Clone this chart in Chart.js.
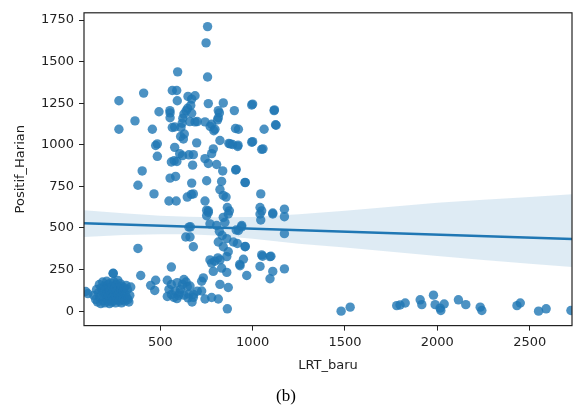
<!DOCTYPE html>
<html>
<head>
<meta charset="utf-8">
<title>LRT_baru vs Positif_Harian</title>
<script src="https://cdn.jsdelivr.net/npm/chart.js@4/dist/chart.umd.min.js"></script>
<style>
  html, body { margin: 0; padding: 0; background: #fff; }
  canvas { display: block; }
</style>
</head>
<body>
<canvas id="regChart" width="577" height="414"></canvas>
<script>
// daily pairs: LRT_baru (x) and Positif_Harian (y)
const lrtBaru = [
  // low cluster, small x
  96, 108, 140, 150, 155, 160, 165, 170, 172, 178, 180, 185, 188, 190, 195, 198, 200, 205, 208, 210,
  212, 215, 218, 220, 222, 225, 228, 230, 232, 235, 238, 240, 242, 245, 246, 248, 250, 252, 255, 258,
  260, 262, 265, 268, 270, 272, 275, 278, 280, 283, 285, 288, 290, 292, 295, 298, 300, 305, 308, 312,
  315, 318, 322, 325, 330, 335, 340,
  // upper band
  756, 748, 756, 594, 410, 276, 276, 363, 565, 589, 650, 592, 493, 552, 640, 648, 665, 688, 670, 760,
  841, 814, 901, 995, 1116, 670, 457, 553, 553, 565, 612, 618, 622, 628, 630, 625, 578, 688, 742, 778,
  796, 814, 820, 923, 1062, 1127, 697, 823, 878, 919, 995, 1049, 475, 484, 610, 660, 700, 770, 790, 810,
  1000, 1056, 1118, 1124, 1000, 871, 891, 921, 907,
  // middle band
  484, 578, 560, 575, 590, 605, 620, 655, 402, 379, 466, 553, 583, 547, 586, 646, 668, 787, 778, 742,
  760, 679, 675, 805, 838, 908, 751, 832, 823, 959, 670, 679, 841, 856, 1044, 742, 751, 760, 863, 874,
  1040, 1049, 1109, 1172, 911, 960,
  // around the fit line
  751, 760, 841, 868, 1040, 1044, 1109, 1172, 769, 805, 850, 941, 923, 663, 1172, 679, 661, 814, 841, 860,
  896, 917, 959, 638, 655, 820, 835, 940, 911, 960,
  // lower band
  868, 860, 823, 769, 778, 787, 832, 860, 950, 932, 968, 1049, 1094, 1040, 1109, 1094, 1172, 379, 245, 394,
  560, 812, 795, 930, 1054, 1099,
  // low cluster, middle x
  733, 724, 724, 742, 778, 814, 823, 868, 661, 679, 672, 863, 475, 448, 470, 538, 547, 538, 574, 592,
  628, 646, 610, 628, 655, 560, 580, 600, 620, 640, 590, 605, 560, 680, 700, 650,
  // right tail
  1479, 1528, 1780, 1798, 1826, 1907, 1916, 1979, 1988, 2015, 2019, 2037, 2114, 2154, 2232, 2241, 2431, 2449, 2548, 2589,
  2723
];
const positifHarian = [
  118, 105, 95, 70, 130, 55, 110, 160, 85, 45, 140, 120, 175, 65, 95, 150, 50, 130, 80, 180,
  110, 60, 160, 95, 140, 45, 120, 75, 170, 100, 55, 150, 85, 228, 125, 65, 175, 105, 140, 50,
  90, 160, 120, 70, 185, 100, 145, 60, 115, 165, 85, 130, 50, 150, 95, 70, 120, 140, 60, 100,
  155, 80, 130, 70, 55, 95, 145,
  1711, 1613, 1408, 1439, 1311, 1265, 1094, 1144, 1327, 1327, 1291, 1265, 1199, 1206, 1205, 1220, 1237, 1295, 1275, 1248,
  1252, 1206, 1206, 1240, 1206, 1190, 1094, 1163, 1192, 1104, 1105, 1130, 1160, 1185, 1065, 1035, 1107, 1138, 1138, 1124,
  1094, 1163, 1192, 1094, 1094, 1118, 1012, 1026, 1006, 990, 1016, 973, 996, 1006, 1050, 1140, 1140, 1110, 1085, 1150,
  1019, 976, 1210, 1121, 1245, 1009, 1002, 998, 1098,
  931, 985, 897, 905, 900, 947, 935, 940, 843, 757, 705, 800, 810, 662, 662, 686, 702, 976, 947, 917,
  888, 941, 878, 882, 843, 849, 784, 780, 731, 774, 770, 705, 696, 686, 705, 662, 607, 603, 623, 603,
  623, 603, 590, 613, 852, 773,
  574, 593, 564, 584, 584, 548, 584, 568, 525, 515, 534, 515, 485, 507, 466, 387, 446, 416, 387, 436,
  416, 407, 387, 446, 505, 480, 455, 507, 488, 389,
  357, 328, 308, 308, 289, 239, 259, 233, 312, 273, 214, 338, 328, 269, 239, 195, 254, 377, 226, 214,
  265, 320, 300, 281, 330, 330,
  200, 180, 121, 73, 82, 73, 161, 142, 151, 83, 55, 14, 186, 155, 124, 186, 131, 88, 83, 171,
  190, 147, 131, 96, 102, 160, 120, 95, 160, 175, 75, 110, 100, 100, 120, 80,
  0, 24, 33, 37, 49, 68, 39, 96, 39, 18, 4, 43, 68, 39, 24, 4, 33, 49, 0, 14,
  4
];

// fitted line and its confidence band
const fitX = [87, 2729];
const fitY = [528, 434];
const bandX = [87, 300, 500, 650, 800, 1000, 1250, 1500, 1750, 2000, 2250, 2500, 2729];
const bandUpper = [607, 588, 574, 568, 565, 566, 582, 603, 628, 652, 670, 686, 703];
const bandLower = [446, 458, 463, 462, 455, 436, 405, 383, 357, 332, 308, 285, 265];

const xTicks = [500, 1000, 1500, 2000, 2500];
const yTicks = [0, 250, 500, 750, 1000, 1250, 1500, 1750];

const blue = '#1f77b4';
const pts = lrtBaru.map((x, i) => ({ x: x, y: positifHarian[i] }));
const toXY = (xs, ys) => xs.map((x, i) => ({ x: x, y: ys[i] }));

// axes frame on all four sides
const framePlugin = {
  id: 'frame',
  afterDraw(chart) {
    const { ctx, chartArea: a } = chart;
    ctx.save();
    ctx.strokeStyle = '#222';
    ctx.lineWidth = 1.2;
    ctx.strokeRect(a.left, a.top, a.right - a.left, a.bottom - a.top);
    ctx.restore();
  }
};

const tickFont = { family: 'DejaVu Sans', size: 13 };
const plainNumber = v => String(v);

new Chart(document.getElementById('regChart'), {
  type: 'scatter',
  data: {
    datasets: [
      {
        label: 'ci upper',
        data: toXY(bandX, bandUpper),
        showLine: true,
        pointRadius: 0,
        borderWidth: 0,
        backgroundColor: 'rgba(31,119,180,0.15)',
        fill: '+1',
        order: 2,
        clip: 0
      },
      {
        label: 'ci lower',
        data: toXY(bandX, bandLower),
        showLine: true,
        pointRadius: 0,
        borderWidth: 0,
        fill: false,
        order: 2,
        clip: 0
      },
      {
        label: 'fit',
        data: toXY(fitX, fitY),
        showLine: true,
        pointRadius: 0,
        borderColor: blue,
        borderWidth: 2.5,
        order: 1,
        clip: 0
      },
      {
        label: 'LRT_baru vs Positif_Harian',
        data: pts,
        pointRadius: 4.7,
        pointHoverRadius: 4.7,
        pointBorderWidth: 0,
        backgroundColor: 'rgba(31,119,180,0.8)',
        order: 3,
        clip: 0
      }
    ]
  },
  options: {
    responsive: false,
    animation: false,
    devicePixelRatio: 1,
    layout: { padding: { left: 0, right: 5, top: 8, bottom: 0 } },
    scales: {
      x: {
        type: 'linear',
        min: 87,
        max: 2729,
        afterBuildTicks: axis => { axis.ticks = xTicks.map(v => ({ value: v })); },
        afterFit: axis => { axis.height = 61; },
        grid: { display: true, drawOnChartArea: false, drawTicks: true, tickLength: 5, tickColor: '#222' },
        border: { display: false },
        ticks: { font: tickFont, color: '#222', padding: 4, maxRotation: 0, callback: plainNumber },
        title: { display: true, text: 'LRT_baru', font: tickFont, color: '#222', padding: { top: 0, bottom: 13 } }
      },
      y: {
        type: 'linear',
        min: -87,
        max: 1794,
        afterBuildTicks: axis => { axis.ticks = yTicks.map(v => ({ value: v })); },
        afterFit: axis => { axis.width = 84; },
        grid: { display: true, drawOnChartArea: false, drawTicks: true, tickLength: 5, tickColor: '#222' },
        border: { display: false },
        ticks: { font: tickFont, color: '#222', padding: 5, callback: plainNumber },
        title: { display: true, text: 'Positif_Harian', font: tickFont, color: '#222', padding: { top: 13, bottom: 0 } }
      }
    },
    plugins: {
      legend: { display: false },
      tooltip: { enabled: false },
      title: {
        display: true,
        text: '(b)',
        position: 'bottom',
        color: '#000',
        font: { family: 'Liberation Serif', size: 17, weight: 'normal' },
        padding: { top: 0, bottom: 7 }
      }
    }
  },
  plugins: [framePlugin]
});
</script>
</body>
</html>
